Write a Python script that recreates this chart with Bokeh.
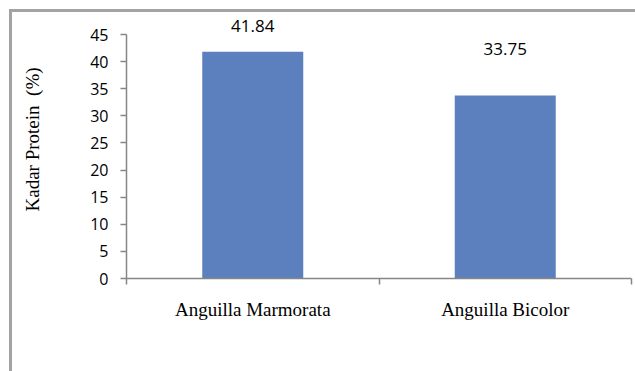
from bokeh.plotting import figure
from bokeh.models import Range1d, FixedTicker, Label, ColumnDataSource
from bokeh.embed import file_html
from bokeh.resources import INLINE

categories = ["Anguilla Marmorata", "Anguilla Bicolor"]
values = [41.84, 33.75]
value_labels = ["41.84", "33.75"]
y_ticks = [0, 5, 10, 15, 20, 25, 30, 35, 40, 45]
y_title = "Kadar Protein \u00a0(%)"

label_offsets = [26, 47]

W, H = 635, 371
y_max = 45
frame_h = 278
axis_h = 244
p = figure(width=W, height=H, output_backend="svg", toolbar_location=None, title=None,
           x_range=Range1d(0, len(categories)),
           y_range=Range1d(0, y_max * frame_h / axis_h),
           min_border_left=126, min_border_right=4, min_border_top=0, min_border_bottom=93)
p.styles = {"background": "linear-gradient(#a3a3a3, #a3a3a3) 9px 9px / 3px calc(100% - 9px) no-repeat, "
                          "linear-gradient(#a3a3a3, #a3a3a3) 9px 9px / calc(100% - 9px) 3px no-repeat, "
                          "#ffffff"}
p.outline_line_color = None
p.grid.visible = False
p.background_fill_color = None
p.border_fill_color = None

centers = [i + 0.5 for i in range(len(categories))]
src = ColumnDataSource(dict(x=centers, top=values))
p.vbar(x="x", top="top", width=0.4, source=src, fill_color="#5b80bd", line_color=None)

# x axis
xa = p.xaxis[0]
xa.ticker = FixedTicker(ticks=centers, minor_ticks=list(range(len(categories) + 1)))
xa.major_label_overrides = {c: cat for c, cat in zip(centers, categories)}
xa.major_tick_out = 0
xa.major_tick_in = 0
xa.minor_tick_out = 6
xa.minor_tick_in = 0
xa.minor_tick_line_color = "#868686"
xa.minor_tick_line_width = 1.5
xa.axis_line_color = "#868686"
xa.axis_line_width = 1.5
xa.major_label_standoff = 14
xa.major_label_text_font = "Liberation Serif"
xa.major_label_text_font_size = "19px"
xa.major_label_text_color = "#000000"

# y axis
ya = p.yaxis[0]
ya.bounds = (0, y_max)
ya.ticker = FixedTicker(ticks=y_ticks, minor_ticks=[])
ya.major_tick_out = 6
ya.major_tick_in = 0
ya.major_tick_line_color = "#868686"
ya.major_tick_line_width = 1.5
ya.axis_line_color = "#868686"
ya.axis_line_width = 1.5
ya.major_label_standoff = 12
ya.major_label_text_font = "Open Sans"
ya.major_label_text_font_size = "16px"
ya.major_label_text_color = "#000000"
ya.axis_label = y_title
ya.axis_label_standoff = 44
ya.axis_label_text_font = "Liberation Serif"
ya.axis_label_text_font_size = "19px"
ya.axis_label_text_font_style = "normal"
ya.axis_label_text_color = "#000000"

# value labels
for c, v, t, off in zip(centers, values, value_labels, label_offsets):
    p.add_layout(Label(x=c, y=v, text=t, y_offset=off, text_align="center",
                       text_baseline="middle", text_font="Open Sans",
                       text_font_size="17px", text_color="#000000"))

open("out.html", "w").write(file_html(p, INLINE))
